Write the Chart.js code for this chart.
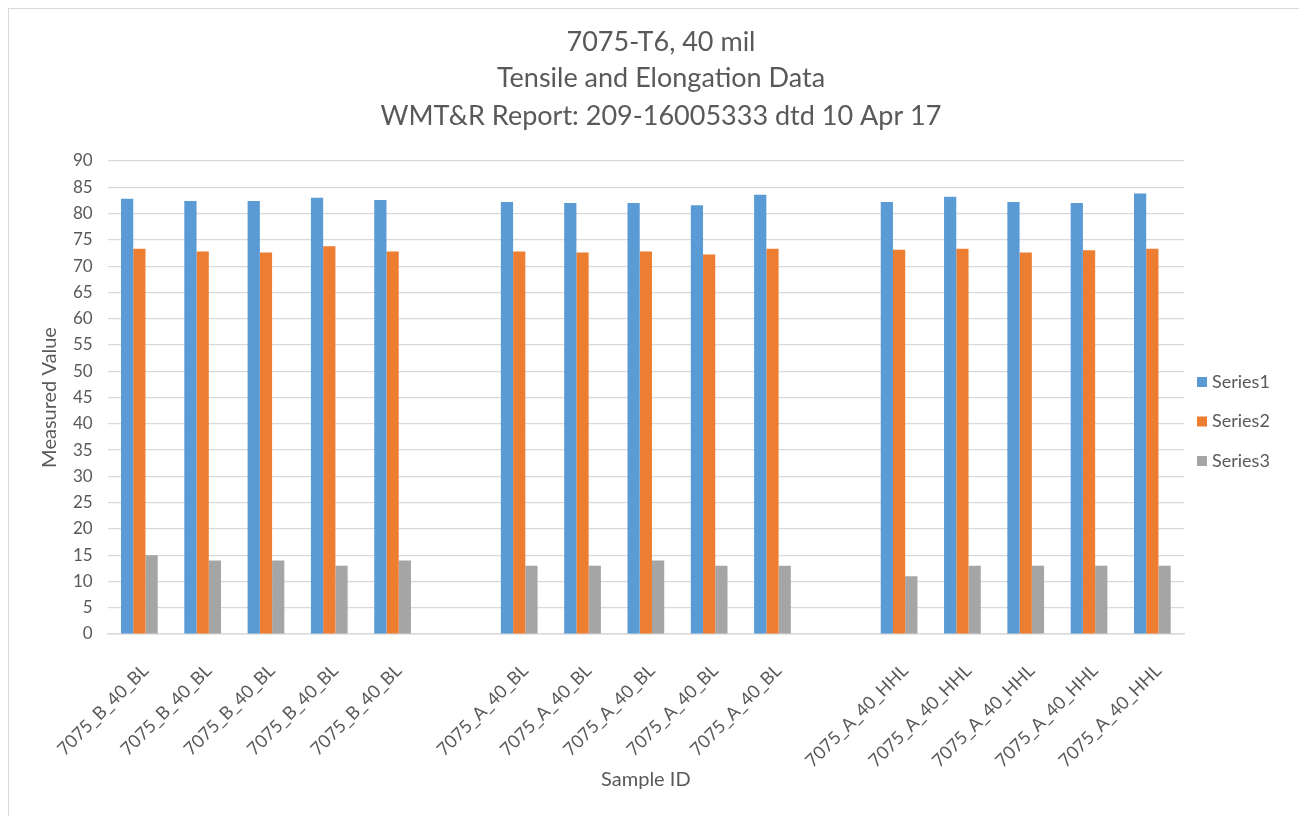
<!DOCTYPE html>
<html>
<head>
<meta charset="utf-8">
<script src="https://cdn.jsdelivr.net/npm/chart.js@4/dist/chart.umd.min.js"></script>
<style>
  html, body { margin: 0; padding: 0; background: #ffffff; }
  #wrap { position: relative; width: 1299px; height: 816px; overflow: hidden; }
  #frame { position: absolute; left: 8px; top: 8px; width: 1300px; height: 820px; border: 1px solid #d9d9d9; box-sizing: border-box; }
  canvas { position: absolute; left: 0; top: 0; }
</style>
</head>
<body>
<div id="wrap">
  <div id="frame"></div>
  <canvas id="chart" width="1299" height="816"></canvas>
</div>
<script>
// Sample IDs (blank entries separate the three sample groups)
const sampleIds = [
  "7075_B_40_BL", "7075_B_40_BL", "7075_B_40_BL", "7075_B_40_BL", "7075_B_40_BL",
  "",
  "7075_A_40_BL", "7075_A_40_BL", "7075_A_40_BL", "7075_A_40_BL", "7075_A_40_BL",
  "",
  "7075_A_40_HHL", "7075_A_40_HHL", "7075_A_40_HHL", "7075_A_40_HHL", "7075_A_40_HHL"
];

const series1 = [82.8, 82.4, 82.4, 83.0, 82.6, null, 82.2, 82.0, 82.0, 81.6, 83.6, null, 82.2, 83.2, 82.2, 82.0, 83.8];
const series2 = [73.3, 72.8, 72.6, 73.8, 72.8, null, 72.8, 72.6, 72.8, 72.2, 73.3, null, 73.1, 73.3, 72.6, 73.0, 73.3];
const series3 = [15, 14, 14, 13, 14, null, 13, 13, 14, 13, 13, null, 11, 13, 13, 13, 13];

const seriesNames = ["Series1", "Series2", "Series3"];
const titleLines = ["7075-T6, 40 mil", "Tensile and Elongation Data", "WMT&R Report: 209-16005333 dtd 10 Apr 17"];

const FONT = "Lato, 'Open Sans', sans-serif";
const TEXT = "#595959";
const GRID = "#d9d9d9";
const COLORS = ["#5b9bd5", "#ed7d31", "#a5a5a5"];

// Three-line heading, centred over the whole chart including the legend column
const heading = {
  id: "heading",
  afterDraw(chart) {
    const ctx = chart.ctx;
    const lineYs = [42, 78, 116];
    ctx.save();
    ctx.font = "27px " + FONT;
    ctx.fillStyle = TEXT;
    ctx.textAlign = "center";
    ctx.textBaseline = "middle";
    titleLines.forEach((t, i) => ctx.fillText(t, 661, lineYs[i]));
    ctx.restore();
  }
};

// Legend drawn at the right of the plot, square swatch + label per dataset
const sideLegend = {
  id: "sideLegend",
  afterDraw(chart) {
    const ctx = chart.ctx;
    const x = chart.chartArea.right + 13;
    const startY = 382;
    const step = 39.5;
    ctx.save();
    ctx.font = "18px " + FONT;
    ctx.textBaseline = "middle";
    ctx.textAlign = "left";
    chart.data.datasets.forEach((ds, i) => {
      const y = startY + i * step;
      ctx.fillStyle = ds.backgroundColor;
      ctx.fillRect(x, y - 5, 10, 10);
      ctx.fillStyle = TEXT;
      ctx.fillText(ds.label, x + 15, y);
    });
    ctx.restore();
  }
};

const ctx = document.getElementById("chart").getContext("2d");
new Chart(ctx, {
  type: "bar",
  data: {
    labels: sampleIds,
    datasets: [
      { label: seriesNames[0], data: series1, backgroundColor: COLORS[0] },
      { label: seriesNames[1], data: series2, backgroundColor: COLORS[1] },
      { label: seriesNames[2], data: series3, backgroundColor: COLORS[2] }
    ]
  },
  options: {
    responsive: false,
    animation: false,
    layout: { padding: { top: 161, right: 115, bottom: 20, left: 0 } },
    datasets: { bar: { categoryPercentage: 0.58, barPercentage: 1.0 } },
    plugins: {
      legend: { display: false },
      tooltip: { enabled: false },
      title: { display: false }
    },
    scales: {
      x: {
        grid: { display: false, drawTicks: false },
        border: { color: GRID, width: 1.5 },
        ticks: {
          color: TEXT,
          font: { family: FONT, size: 18 },
          autoSkip: false,
          minRotation: 45,
          maxRotation: 45,
          padding: 26,
          labelOffset: 6
        },
        title: {
          display: true,
          text: "Sample ID",
          color: TEXT,
          font: { family: FONT, size: 20 },
          padding: { top: 4, bottom: 4 }
        },
        afterFit(scale) { scale.height = 162; }
      },
      y: {
        min: 0,
        max: 90,
        ticks: {
          stepSize: 5,
          color: TEXT,
          font: { family: FONT, size: 17 },
          padding: 15
        },
        grid: { color: GRID, lineWidth: 1.2, drawTicks: false },
        border: { display: false },
        title: {
          display: true,
          text: "Measured Value",
          color: TEXT,
          font: { family: FONT, size: 20 },
          padding: { top: 38, bottom: 0 }
        },
        afterFit(scale) { scale.width = 107.7; }
      }
    }
  },
  plugins: [heading, sideLegend]
});
</script>
</body>
</html>
